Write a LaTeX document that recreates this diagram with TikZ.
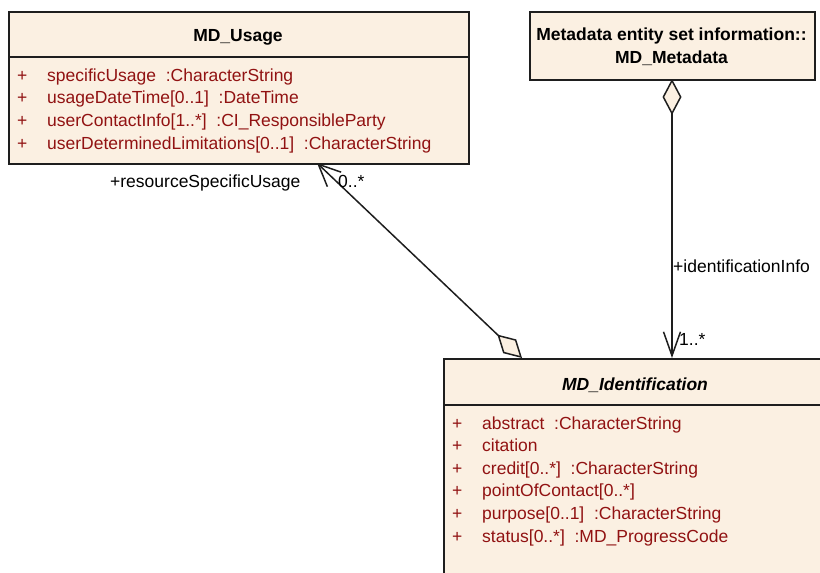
\documentclass[tikz,border=0pt]{standalone}
\usepackage{fontspec}
\setmainfont{Liberation Sans}
\usetikzlibrary{arrows.meta, positioning}
\definecolor{umlfill}{RGB}{251,240,226}
\definecolor{umlred}{RGB}{145,18,18}
\definecolor{umlline}{RGB}{30,30,30}

\begin{document}
\begin{tikzpicture}[x=1pt, y=-1pt,
    classbox/.style={draw=umlline, fill=umlfill, line width=1.6pt, inner sep=0pt, anchor=north west},
    divider/.style={draw=umlline, line width=1.6pt},
    title/.style={anchor=base, inner sep=0pt, font=\fontsize{17.5}{20}\selectfont\bfseries},
    attr/.style={anchor=base west, inner sep=0pt, text=umlred, font=\fontsize{17.5}{20}\selectfont},
    lbl/.style={anchor=base west, inner sep=0pt, font=\fontsize{17.5}{20}\selectfont},
    assoc/.style={draw=umlline, line width=1.5pt}]
    \useasboundingbox (0,0) rectangle (820,573);

    % MD_Usage
    \node[classbox, minimum width=460pt, minimum height=152pt] (usage) at (8,11) {};
    \coordinate (usagediv) at (8,57);
    \draw[divider] (usagediv) -- (usagediv -| usage.east);
    \node[title] (usagetitle) at (238,41) {MD\_Usage};
    \node[attr] (ua1) at (17,81) {\makebox[30pt][l]{+}specificUsage~ :CharacterString};
    \node[attr] (ua2) at (17,103.7) {\makebox[30pt][l]{+}usageDateTime[0..1]~ :DateTime};
    \node[attr] (ua3) at (17,126.4) {\makebox[30pt][l]{+}userContactInfo[1..*]~ :CI\_ResponsibleParty};
    \node[attr] (ua4) at (17,149.1) {\makebox[30pt][l]{+}userDeterminedLimitations[0..1]~ :CharacterString};

    % MD_Metadata
    \node[classbox, minimum width=285pt, minimum height=68pt] (meta) at (529,11) {};
    \node[title] (metatitle1) at (671.5,40) {Metadata entity set information::};
    \node[title] (metatitle2) at (671.5,63) {MD\_Metadata};

    % MD_Identification
    \node[classbox, minimum width=387pt, minimum height=250pt] (ident) at (443,358) {};
    \coordinate (identdiv) at (443,405);
    \draw[divider] (identdiv) -- (identdiv -| ident.east);
    \node[title, font=\fontsize{17.5}{20}\selectfont\bfseries\itshape] (identtitle) at (635,390) {MD\_Identification};
    \node[attr] (ia1) at (452,429) {\makebox[30pt][l]{+}abstract~ :CharacterString};
    \node[attr] (ia2) at (452,451.6) {\makebox[30pt][l]{+}citation};
    \node[attr] (ia3) at (452,474.2) {\makebox[30pt][l]{+}credit[0..*]~ :CharacterString};
    \node[attr] (ia4) at (452,496.8) {\makebox[30pt][l]{+}pointOfContact[0..*]};
    \node[attr] (ia5) at (452,519.4) {\makebox[30pt][l]{+}purpose[0..1]~ :CharacterString};
    \node[attr] (ia6) at (452,542) {\makebox[30pt][l]{+}status[0..*]~ :MD\_ProgressCode};

    % associations
    \coordinate (usagebot) at (317,163);
    \coordinate (identagg) at (522,358);
    \coordinate (metabot) at (672,79);
    \coordinate (identtop) at (672,358);
    \draw[assoc, {Diamond[length=34pt, width=19pt, fill=umlfill]}-{Straight Barb[length=22pt, width=20pt]}] (identagg) -- (usagebot);
    \draw[assoc, {Diamond[length=36pt, width=19pt, fill=umlfill]}-{Straight Barb[length=24pt, width=17pt]}] (metabot) -- (identtop);

    \node[lbl] (usagerole) at (110,187) {+resourceSpecificUsage};
    \node[lbl] (usagemult) at (338,187) {0..*};
    \node[lbl] (identrole) at (673,272) {+identificationInfo};
    \node[lbl] (identmult) at (679,345) {1..*};
\end{tikzpicture}
\end{document}
